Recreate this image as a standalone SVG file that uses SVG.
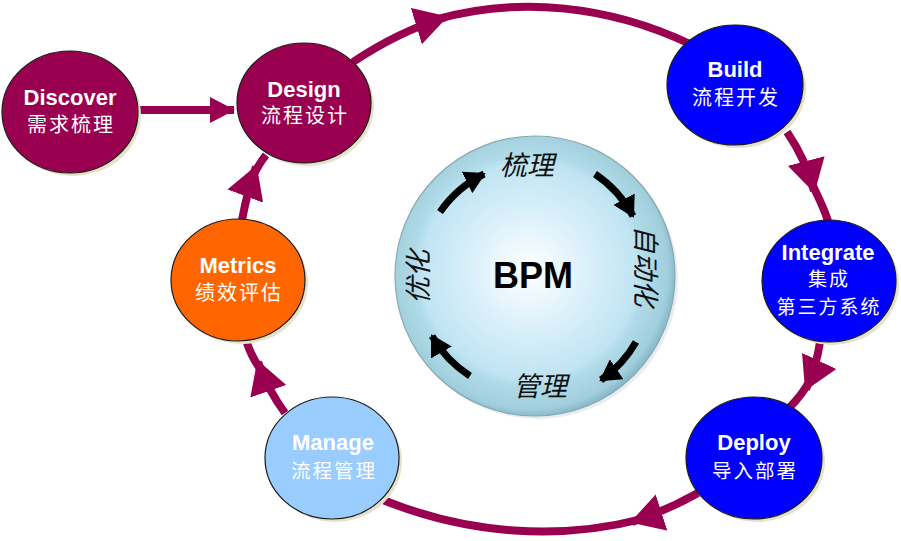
<svg xmlns="http://www.w3.org/2000/svg" width="901" height="541" viewBox="0 0 901 541">
<style>
.en{font-family:"Liberation Sans",Arial,"Noto Sans CJK SC",sans-serif;font-weight:bold;font-size:22px;fill:#fff;text-anchor:middle}
.zh{font-family:"Noto Sans CJK SC","Liberation Sans",sans-serif;font-size:20px;fill:#fff;text-anchor:middle;letter-spacing:2px}
.shadow{fill:#e6e1cb}
.node{stroke:#1a1a1a;stroke-width:1.2}
.conn{fill:none;stroke:#990050;stroke-width:8}
.blk{fill:none;stroke:#000;stroke-width:7}
.it{font-family:"Noto Sans CJK SC",sans-serif;font-style:italic;font-size:27px;fill:#111;text-anchor:middle}
</style>
<defs>
<marker id="ah" markerUnits="userSpaceOnUse" markerWidth="34" markerHeight="38" viewBox="0 0 34 38" refX="31" refY="19" orient="auto">
<path d="M0,0 L33,19 L0,38 z" fill="#990050"/>
</marker>
<marker id="as" markerUnits="userSpaceOnUse" markerWidth="26" markerHeight="26" viewBox="0 0 26 26" refX="24" refY="13" orient="auto">
<path d="M0,0 L25,13 L0,26 z" fill="#990050"/>
</marker>
<marker id="bh" markerUnits="userSpaceOnUse" markerWidth="24" markerHeight="24" viewBox="0 0 24 24" refX="19" refY="12" orient="auto">
<path d="M0,0 L21,12 L0,24 z" fill="#000"/>
</marker>
<radialGradient id="bpm" cx="0.48" cy="0.48" r="0.52">
<stop offset="0" stop-color="#ffffff"/>
<stop offset="0.45" stop-color="#d6eefa"/>
<stop offset="0.74" stop-color="#c0e4f3"/>
<stop offset="0.8" stop-color="#b0dae8"/>
<stop offset="0.95" stop-color="#a2cfdd"/>
<stop offset="1" stop-color="#8bbccb"/>
</radialGradient>
</defs>
<rect width="901" height="541" fill="#fff"/>

<g id="connectors">
<path class="conn" d="M137,110 L234,110" marker-end="url(#as)"/>
<path class="conn" d="M353,62 C380,44 410,28 446,17" marker-end="url(#ah)"/>
<path class="conn" d="M438,19 C520,-4 610,6 690,44"/>
<path class="conn" d="M787,132 C798,148 808,168 814,191" marker-end="url(#ah)"/>
<path class="conn" d="M811,182 C818,196 824,208 828,221"/>
<path class="conn" d="M820,342 C818,356 814,372 806,389" marker-end="url(#ah)"/>
<path class="conn" d="M810,380 C804,392 797,400 789,408"/>
<path class="conn" d="M698,493 C680,503 660,513 632,522" marker-end="url(#ah)"/>
<path class="conn" d="M642,519 C560,540 470,535 383,500"/>
<path class="conn" d="M285,413 C274,398 265,382 258,362" marker-end="url(#ah)"/>
<path class="conn" d="M261,370 C255,362 250,352 247,343"/>
<path class="conn" d="M242,220 C245,204 249,186 256,167" marker-end="url(#ah)"/>
<path class="conn" d="M253,176 C257,168 261,161 266,155"/>
</g>

<g id="discover">
<ellipse class="shadow" cx="73" cy="115" rx="68" ry="61"/>
<ellipse class="node" cx="70" cy="112" rx="68" ry="61" fill="#990050"/>
<text class="en" x="70" y="105">Discover</text>
<text class="zh" x="71" y="132">需求梳理</text>
</g>
<g id="design">
<ellipse class="shadow" cx="307" cy="106" rx="67" ry="60"/>
<ellipse class="node" cx="304" cy="103" rx="67" ry="60" fill="#990050"/>
<text class="en" x="304" y="97">Design</text>
<text class="zh" x="305" y="123">流程设计</text>
</g>
<g id="build">
<ellipse class="shadow" cx="738" cy="88" rx="68" ry="60"/>
<ellipse class="node" cx="735" cy="85" rx="68" ry="60" fill="#0000ff"/>
<text class="en" x="735" y="77">Build</text>
<text class="zh" x="736" y="105">流程开发</text>
</g>
<g id="integrate">
<ellipse class="shadow" cx="832" cy="284" rx="67" ry="61"/>
<ellipse class="node" cx="829" cy="281" rx="67" ry="61" fill="#0000ff"/>
<text class="en" x="828" y="260">Integrate</text>
<text class="zh" x="829" y="286" style="font-size:19px">集成</text>
<text class="zh" x="829" y="314" style="font-size:19px">第三方系统</text>
</g>
<g id="deploy">
<ellipse class="shadow" cx="757" cy="461" rx="68" ry="61"/>
<ellipse class="node" cx="754" cy="458" rx="68" ry="61" fill="#0000ff"/>
<text class="en" x="754" y="450">Deploy</text>
<text class="zh" x="755" y="478" style="font-size:19.5px">导入部署</text>
</g>
<g id="manage">
<ellipse class="shadow" cx="335" cy="461" rx="67" ry="61"/>
<ellipse class="node" cx="332" cy="458" rx="67" ry="61" fill="#99ccff"/>
<text class="en" x="333" y="450">Manage</text>
<text class="zh" x="334" y="478" style="font-size:19.5px">流程管理</text>
</g>
<g id="metrics">
<ellipse class="shadow" cx="241" cy="283" rx="67" ry="61"/>
<ellipse class="node" cx="238" cy="280" rx="67" ry="61" fill="#ff6600"/>
<text class="en" x="238" y="273">Metrics</text>
<text class="zh" x="239" y="300">绩效评估</text>
</g>

<g id="bpm">
<circle cx="538" cy="279" r="140" fill="#e8eef0"/>
<circle cx="535" cy="276" r="140" fill="url(#bpm)" stroke="#88a9b3" stroke-width="1.2"/>
<text x="533" y="288" font-family="Liberation Sans,Arial,sans-serif" font-weight="bold" font-size="36" text-anchor="middle" fill="#000">BPM</text>
<text class="it" x="527" y="175">梳理</text>
<text class="it" x="540" y="396">管理</text>
<text class="it" transform="translate(419,277) rotate(-90)" y="9">优化</text>
<text class="it" transform="translate(645,266) rotate(90)" y="9">自动化</text>
<path class="blk" d="M440,212 A116,116 0 0 1 484,174" marker-end="url(#bh)"/>
<path class="blk" d="M595,174 A116,116 0 0 1 633,216" marker-end="url(#bh)"/>
<path class="blk" d="M636,342 A116,116 0 0 1 601,380" marker-end="url(#bh)"/>
<path class="blk" d="M470,376 A116,116 0 0 1 432,336" marker-end="url(#bh)"/>
</g>
</svg>
